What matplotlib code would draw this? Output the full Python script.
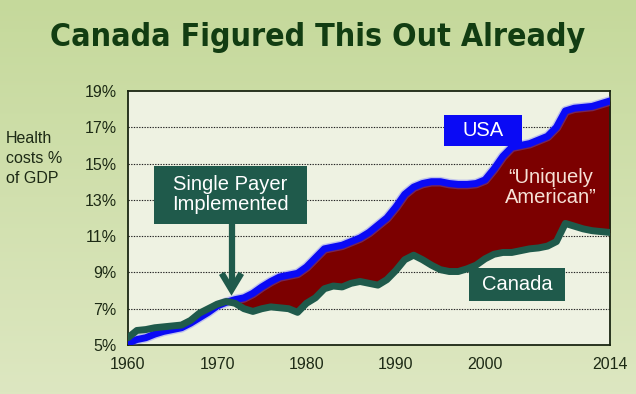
import numpy as np
import matplotlib
matplotlib.use("Agg")
import matplotlib.pyplot as plt
from matplotlib.patches import Rectangle

#----------------------------------------------------------------------------------------#
# Data

years = list(range(1960, 2015))

usa = [5.1, 5.3, 5.4, 5.6, 5.75, 5.85, 5.95, 6.2, 6.5, 6.8,
       7.15, 7.35, 7.5, 7.6, 7.85, 8.2, 8.5, 8.75, 8.85, 8.95,
       9.3, 9.8, 10.3, 10.4, 10.5, 10.7, 10.9, 11.2, 11.6, 12.0,
       12.6, 13.3, 13.7, 13.9, 14.0, 14.0, 13.9, 13.85, 13.85, 13.9,
       14.1, 14.7, 15.4, 15.9, 16.0, 16.1, 16.3, 16.5, 17.0, 17.9,
       18.05, 18.1, 18.15, 18.3, 18.45]

canada = [5.4, 5.8, 5.85, 5.95, 6.0, 6.05, 6.1, 6.35, 6.75, 7.0,
          7.25, 7.4, 7.3, 7.0, 6.85, 7.0, 7.1, 7.05, 7.0, 6.8,
          7.3, 7.6, 8.1, 8.25, 8.2, 8.4, 8.5, 8.4, 8.3, 8.6,
          9.1, 9.7, 9.95, 9.7, 9.4, 9.15, 9.05, 9.05, 9.2, 9.4,
          9.75, 10.0, 10.1, 10.1, 10.2, 10.3, 10.35, 10.45, 10.7, 11.7,
          11.55, 11.4, 11.3, 11.25, 11.2]

xticks = [1960, 1970, 1980, 1990, 2000, 2014]
xtick_labels = ['1960', '1970', '1980', '1990', '2000', '2014']
yticks = [5, 7, 9, 11, 13, 15, 17, 19]
ytick_labels = ['5%', '7%', '9%', '11%', '13%', '15%', '17%', '19%']

#----------------------------------------------------------------------------------------#
# Colors

teal = '#1f5a4b'
blue = '#0a0af5'
dark_red = '#7c0000'
text_col = '#1d2a15'

plt.rcParams['font.family'] = ['Liberation Sans', 'DejaVu Sans']

fig = plt.figure(figsize=(6.36, 3.94), dpi=100)

# background gradient
bg = fig.add_axes([0, 0, 1, 1], zorder=-10)
top = np.array([0.773, 0.851, 0.608])
bot = np.array([0.867, 0.906, 0.757])
t = np.linspace(0, 1, 200)[:, None, None]
grad = top * (1 - t) + bot * t
grad = np.repeat(grad, 4, axis=1)
bg.imshow(grad, aspect='auto', extent=[0, 1, 0, 1])
bg.axis('off')

ax = fig.add_axes([0.2012, 0.1244, 0.7579, 0.6447])
ax.set_facecolor('#eef2e2')

ax.fill_between(years, canada, usa, where=[u >= c for u, c in zip(usa, canada)],
                interpolate=True, color=dark_red, zorder=2, lw=0)
ax.plot(years, usa, color='#6a6aff', lw=7, alpha=0.35, solid_capstyle='round', zorder=3)
ax.plot(years, usa, color=blue, lw=5, solid_capstyle='round', zorder=3)
ax.plot(years, canada, color=teal, lw=5, solid_capstyle='round', zorder=4)

ax.set_xlim(1960, 2014)
ax.set_ylim(5, 19)
ax.set_xticks(xticks)
ax.set_xticklabels(xtick_labels, fontsize=11.5, color=text_col)
ax.set_yticks(yticks)
ax.set_yticklabels(ytick_labels, fontsize=11.5, color=text_col)
ax.tick_params(length=0, pad=8)
ax.tick_params(axis='x', pad=9)
for yv in yticks[1:-1]:
    ax.axhline(yv, color='#222222', lw=0.8, ls=(0, (1.2, 1.2)), zorder=1)
for s in ax.spines.values():
    s.set_color('#1a2612')
    s.set_linewidth(1.3)

# annotation boxes
def label_box(x0, y0, x1, y1, color, text, fs):
    ax.add_patch(Rectangle((x0, y0), x1 - x0, y1 - y0, facecolor=color,
                           edgecolor='none', zorder=6, clip_on=False))
    ax.text((x0 + x1) / 2, (y0 + y1) / 2, text, color='white', fontsize=fs,
            ha='center', va='center', zorder=7, linespacing=1.1)

label_box(1962.9, 11.69, 1980.1, 14.89, teal, 'Single Payer\nImplemented', 14.5)
# arrow: shaft + open head
ax.plot([1971.6, 1971.6], [11.69, 8.2], color=teal, lw=4.5, zorder=6,
        solid_capstyle='butt')
ax.plot([1970.5, 1971.6, 1972.7], [8.95, 8.05, 8.95], color=teal, lw=4.5, zorder=6,
        solid_capstyle='butt', solid_joinstyle='miter')
label_box(1995.4, 15.96, 2004.1, 17.7, blue, 'USA', 14.5)
label_box(1998.2, 7.45, 2009.0, 9.22, teal, 'Canada', 14.5)

ax.text(2007.4, 13.7, '\u201cUniquely\nAmerican\u201d', color='#f6e1d6', fontsize=14.5,
        ha='center', va='center', zorder=5, linespacing=1.05)

fig.text(0.5, 0.905, 'Canada Figured This Out Already', ha='center', va='center',
         fontsize=23, color='#123d12', family='DejaVu Sans', fontstretch='condensed',
         fontweight='bold')
fig.text(0.009, 0.598, 'Health\ncosts %\nof GDP', ha='left', va='center',
         fontsize=11.5, color=text_col, linespacing=1.4)

fig.savefig('out.png', dpi=100)
